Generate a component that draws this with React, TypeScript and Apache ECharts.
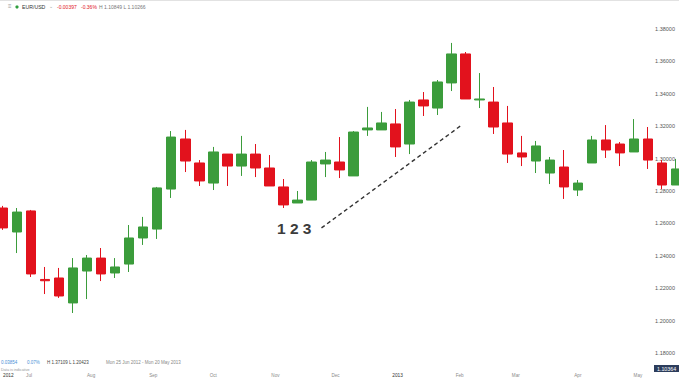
import React, { useEffect, useRef } from "react";
import * as echarts from "echarts";

// Weekly candles (week starting Monday)
const weekDates = [
  "2012-06-18", "2012-06-25", "2012-07-02", "2012-07-09", "2012-07-16", "2012-07-23", "2012-07-30",
  "2012-08-06", "2012-08-13", "2012-08-20", "2012-08-27", "2012-09-03", "2012-09-10", "2012-09-17",
  "2012-09-24", "2012-10-01", "2012-10-08", "2012-10-15", "2012-10-22", "2012-10-29", "2012-11-05",
  "2012-11-12", "2012-11-19", "2012-11-26", "2012-12-03", "2012-12-10", "2012-12-17", "2012-12-24",
  "2012-12-31", "2013-01-07", "2013-01-14", "2013-01-21", "2013-01-28", "2013-02-04", "2013-02-11",
  "2013-02-18", "2013-02-25", "2013-03-04", "2013-03-11", "2013-03-18", "2013-03-25", "2013-04-01",
  "2013-04-08", "2013-04-15", "2013-04-22", "2013-04-29", "2013-05-06", "2013-05-13", "2013-05-20",
];
const opens = [
  1.2695, 1.2547, 1.2677, 1.2254, 1.2263, 1.2109, 1.2306, 1.2386, 1.2294, 1.2349, 1.2510, 1.2565, 1.2812,
  1.3121, 1.2973, 1.2849, 1.3028, 1.2954, 1.3028, 1.2942, 1.2825, 1.2726, 1.2744, 1.2967, 1.2979, 1.2893,
  1.3177, 1.3177, 1.3214, 1.3090, 1.3362, 1.3312, 1.3467, 1.3646, 1.3362, 1.3349, 1.3220, 1.3035, 1.2985,
  1.2911, 1.2948, 1.2806, 1.2973, 1.3115, 1.3090, 1.3041, 1.3121, 1.2973, 1.2837,
];
const closes = [
  1.2572, 1.2670, 1.2288, 1.2246, 1.2152, 1.2325, 1.2386, 1.2288, 1.2331, 1.2510, 1.2578, 1.2819, 1.3133,
  1.2985, 1.2862, 1.3041, 1.2954, 1.3028, 1.2942, 1.2831, 1.2714, 1.2744, 1.2979, 1.2991, 1.2930, 1.3164,
  1.3189, 1.3220, 1.3072, 1.3349, 1.3325, 1.3473, 1.3646, 1.3368, 1.3368, 1.3195, 1.3028, 1.3010, 1.3078,
  1.2991, 1.2825, 1.2849, 1.3115, 1.3053, 1.3035, 1.3121, 1.2991, 1.2837, 1.2936,
];
const lows = [
  1.2560, 1.2417, 1.2269, 1.2164, 1.2140, 1.2047, 1.2133, 1.2244, 1.2263, 1.2300, 1.2467, 1.2504, 1.2757,
  1.2917, 1.2831, 1.2806, 1.2831, 1.2893, 1.2886, 1.2831, 1.2695, 1.2726, 1.2744, 1.2886, 1.2880, 1.2893,
  1.3140, 1.3177, 1.3010, 1.3028, 1.3263, 1.3269, 1.3417, 1.3368, 1.3312, 1.3152, 1.2973, 1.2954, 1.2911,
  1.2843, 1.2751, 1.2769, 1.2973, 1.3004, 1.2954, 1.3041, 1.2936, 1.2812, 1.2837,
];
const highs = [
  1.2708, 1.2695, 1.2683, 1.2331, 1.2325, 1.2386, 1.2405, 1.2448, 1.2386, 1.2590, 1.2640, 1.2825, 1.3170,
  1.3177, 1.2991, 1.3072, 1.3028, 1.3140, 1.3090, 1.3022, 1.2874, 1.2800, 1.2991, 1.3041, 1.3133, 1.3170,
  1.3319, 1.3288, 1.3306, 1.3362, 1.3411, 1.3485, 1.3714, 1.3658, 1.3528, 1.3442, 1.3325, 1.3140, 1.3109,
  1.3010, 1.3053, 1.2868, 1.3140, 1.3207, 1.3102, 1.3244, 1.3195, 1.2991, 1.2998,
];

const axisStart = "2012-06-18";
const axisEnd = "2013-05-21";
const monthNames = ["Jan", "Feb", "Mar", "Apr", "May", "Jun", "Jul", "Aug", "Sep", "Oct", "Nov", "Dec"];
const firstYearLabel = "2012";

const yMin = 1.18;
const yMax = 1.3979;
const yInterval = 0.02;

const trendStart: [string, number] = ["2012-11-24", 1.2572];
const trendEnd: [string, number] = ["2013-02-02", 1.3207];

const symbolName = "EUR/USD";
const headerChange = "-0.00397";
const headerPct = "-0.36%";
const headerHL = "H 1.10849 L 1.10266";
const infoChange = "0.03854";
const infoPct = "0.07%";
const infoHL = "H 1.37109 L 1.20423";
const infoRange = "Mon 25 Jun 2012 - Mon 20 May 2013";
const infoNote = "Data is indicative";
const lastPrice = "1.10364";
const patternLabel = "1 2 3";

const GREEN = "#3b9c3b";
const RED = "#e2121d";
const FONT = "Liberation Sans, Arial, sans-serif";

function buildDays(start: string, end: string): string[] {
  const out: string[] = [];
  const s = Date.parse(start + "T00:00:00Z");
  const e = Date.parse(end + "T00:00:00Z");
  for (let t = s; t <= e; t += 86400000) {
    out.push(new Date(t).toISOString().slice(0, 10));
  }
  return out;
}

export default function App() {
  const ref = useRef<HTMLDivElement>(null);
  useEffect(() => {
    if (!ref.current) return;
    const chart = echarts.init(ref.current, null, { renderer: "svg" });
    const days = buildDays(axisStart, axisEnd);
    const candleData = weekDates.map((d, i) => [d, opens[i], closes[i], lows[i], highs[i]]);
    const option: any = {
      animation: false,
      backgroundColor: "#ffffff",
      grid: { left: 0, right: 0, top: 0, bottom: 27, containLabel: false },
      xAxis: {
        type: "category",
        data: days,
        boundaryGap: true,
        axisLine: { show: false },
        axisTick: { show: false },
        splitLine: { show: false },
        axisLabel: {
          interval: (index: number, value: string) => index === 0 || value.slice(8) === "01",
          formatter: (value: string, index: number) => {
            if (index === 0) return "{y|" + firstYearLabel + "}";
            const m = parseInt(value.slice(5, 7), 10);
            if (m === 1) return "{y|" + value.slice(0, 4) + "}";
            return monthNames[m - 1];
          },
          alignMinLabel: "left",
          margin: 20,
          fontSize: 4.6,
          color: "#8a8a8a",
          fontFamily: FONT,
          rich: { y: { fontSize: 4.8, color: "#333", fontFamily: FONT } },
        },
      },
      yAxis: {
        type: "value",
        position: "right",
        min: yMin,
        max: yMax,
        interval: yInterval,
        scale: true,
        axisLine: { show: false },
        axisTick: { show: false },
        splitLine: { show: false },
        axisLabel: {
          inside: true,
          margin: 4,
          showMaxLabel: false,
          fontSize: 5.5,
          color: "#555",
          fontFamily: FONT,
          formatter: (v: number) => v.toFixed(5),
        },
      },
      series: [
        {
          type: "candlestick",
          data: candleData,
          encode: { x: 0, y: [1, 2, 3, 4] },
          barWidth: 10,
          itemStyle: {
            color: GREEN,
            color0: RED,
            borderColor: GREEN,
            borderColor0: RED,
            borderWidth: 1,
          },
          markLine: {
            silent: true,
            symbol: ["none", "none"],
            label: { show: false },
            lineStyle: { color: "#333", width: 1.4, type: [4, 3] },
            data: [[{ coord: trendStart }, { coord: trendEnd }]],
          },
        },
      ],
      graphic: [
        { type: "line", shape: { x1: 0, y1: 0.5, x2: 679, y2: 0.5 }, style: { stroke: "#e2e2e2", lineWidth: 1 } },
        { type: "text", left: 8, top: 3, style: { text: "≡", fontSize: 6, fill: "#999", fontFamily: FONT } },
        { type: "circle", shape: { cx: 17, cy: 7, r: 1.6 }, style: { fill: "#2e9e3e" } },
        { type: "text", left: 22, top: 4.5, style: { text: symbolName, fontSize: 5.2, fill: "#333", fontFamily: FONT } },
        { type: "text", left: 49, top: 3.5, style: { text: "⌄", fontSize: 5, fill: "#999", fontFamily: FONT } },
        { type: "text", left: 57, top: 4.7, style: { text: headerChange, fontSize: 5, fill: "#e2121d", fontFamily: FONT } },
        { type: "text", left: 81, top: 4.7, style: { text: headerPct, fontSize: 5, fill: "#e2121d", fontFamily: FONT } },
        { type: "text", left: 99, top: 4.7, style: { text: headerHL, fontSize: 5, fill: "#777", fontFamily: FONT } },
        { type: "text", left: 1, top: 359.5, style: { text: infoChange, fontSize: 4.5, fill: "#4a8fd6", fontFamily: FONT } },
        { type: "text", left: 27, top: 359.5, style: { text: infoPct, fontSize: 4.5, fill: "#4a8fd6", fontFamily: FONT } },
        { type: "text", left: 47, top: 359.5, style: { text: infoHL, fontSize: 4.5, fill: "#444", fontFamily: FONT } },
        { type: "text", left: 106, top: 359.5, style: { text: infoRange, fontSize: 4.5, fill: "#888", fontFamily: FONT } },
        { type: "text", left: 1, top: 367.5, style: { text: infoNote, fontSize: 3.8, fill: "#999", fontFamily: FONT } },
        { type: "rect", shape: { x: 654, y: 365, width: 25, height: 7 }, style: { fill: "#2c3d5c" } },
        { type: "text", left: 657, top: 366, style: { text: lastPrice, fontSize: 5.3, fill: "#fff", fontFamily: FONT } },
        { type: "text", left: 277, top: 220, style: { text: patternLabel, fontSize: 15.5, fontWeight: "bold", fill: "#3c3c3c", fontFamily: FONT } },
      ],
    };
    chart.setOption(option);
    return () => chart.dispose();
  }, []);
  return (
    <div
      ref={ref}
      style={{ position: "absolute", left: 0, top: 0, width: 679, height: 380 }}
    />
  );
}
